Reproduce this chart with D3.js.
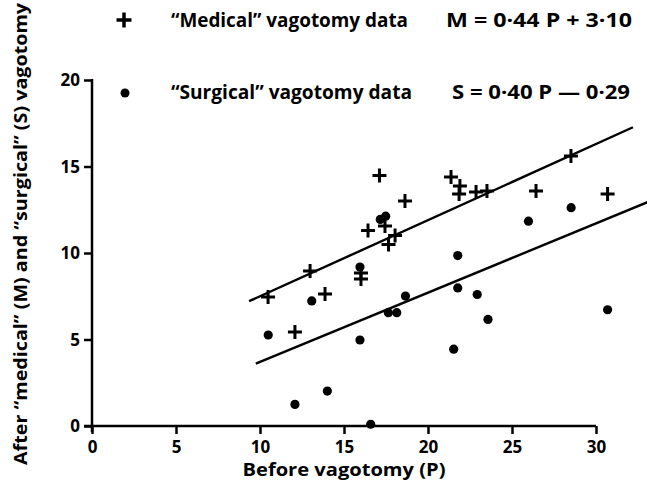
<!DOCTYPE html>
<html>
<head>
<meta charset="utf-8">
<script src="https://cdn.jsdelivr.net/npm/d3@7"></script>
<style>
  html, body { margin: 0; padding: 0; background: #fff; }
  svg { display: block; }
  text { font-family: "Open Sans", "DejaVu Sans", sans-serif; font-weight: 700; fill: #000; }
</style>
</head>
<body>
<svg id="chart" width="647" height="487"></svg>
<script>
// ---- data ----
const xTicks = [0, 5, 10, 15, 20, 25, 30];
const yTicks = [0, 5, 10, 15, 20];

const medicalP = [10.48, 12.08, 12.98, 13.87, 16.01, 16.01, 16.43, 17.11, 17.44, 18.04,
                  17.65, 18.63, 21.37, 21.90, 21.85, 22.86, 23.51, 26.43, 28.51, 30.69];
const medicalM = [7.46, 5.43, 8.96, 7.63, 8.84, 8.50, 11.30, 14.48, 11.56, 11.01,
                  10.49, 13.01, 14.39, 13.87, 13.41, 13.53, 13.58, 13.58, 15.61, 13.41];

const surgicalP = [10.49, 13.08, 12.08, 14.01, 15.95, 17.64, 18.14, 16.59, 15.95, 17.16,
                   17.48, 18.66, 21.77, 21.77, 22.93, 23.57, 21.53, 25.98, 28.52, 30.69];
const surgicalS = [5.26, 7.23, 1.25, 2.02, 4.97, 6.55, 6.55, 0.10, 9.19, 11.94,
                   12.13, 7.51, 9.85, 7.98, 7.60, 6.16, 4.44, 11.84, 12.62, 6.72];

// regression lines: slope, intercept, P range drawn
const medicalFit = { slope: 0.44, intercept: 3.10, from: 9.35, to: 32.2 };
const surgicalFit = { slope: 0.40, intercept: -0.29, from: 9.75, to: 33.5 };

const legendLabels = ["\u201CMedical\u201D vagotomy data", "\u201CSurgical\u201D vagotomy data"];
const legendEquations = ["M = 0\u00B744 P + 3\u00B710", "S = 0\u00B740 P \u2014 0\u00B729"];
const xTitle = "Before vagotomy (P)";
const yTitle = "After \u201Cmedical\u201D (M) and \u201Csurgical\u201D (S) vagotomy";

// ---- layout ----
const svg = d3.select("#chart");
const x = d3.scaleLinear().domain([0, 30]).range([92, 596]);
const y = d3.scaleLinear().domain([0, 20]).range([426, 80]);

// axes
const xAxis = d3.axisBottom(x).tickValues(xTicks).tickSize(8).tickSizeOuter(0).tickPadding(4);
const yAxis = d3.axisLeft(y).tickValues(yTicks).tickSize(8).tickSizeOuter(0).tickPadding(4);

const gx = svg.append("g").attr("transform", `translate(0,${y(0)})`).call(xAxis);
const gy = svg.append("g").attr("transform", `translate(${x(0)},0)`).call(yAxis);

[gx, gy].forEach(g => {
  g.select(".domain").remove();
  g.selectAll(".tick line").attr("stroke", "#000").attr("stroke-width", 2.5);
  g.selectAll(".tick text").style("font-size", "17px").style("font-family", "'Open Sans', sans-serif")
    .style("font-weight", "700");
});
gx.selectAll(".tick text").attr("dy", "0.9em");
gy.selectAll(".tick text").attr("dy", "0.35em");

// axis lines
svg.append("line").attr("x1", x(0) - 8).attr("x2", x(30)).attr("y1", y(0)).attr("y2", y(0))
  .attr("stroke", "#000").attr("stroke-width", 2.5);
svg.append("line").attr("x1", x(0)).attr("x2", x(0)).attr("y1", y(20) - 1).attr("y2", y(0) + 6)
  .attr("stroke", "#000").attr("stroke-width", 2.5);

// regression lines
[medicalFit, surgicalFit].forEach(f => {
  svg.append("line")
    .attr("x1", x(f.from)).attr("y1", y(f.slope * f.from + f.intercept))
    .attr("x2", x(f.to)).attr("y2", y(f.slope * f.to + f.intercept))
    .attr("stroke", "#000").attr("stroke-width", 2.4);
});

// points
const plusPath = (cx, cy, s) => `M${cx - s},${cy}H${cx + s}M${cx},${cy - s}V${cy + s}`;

svg.append("g").selectAll("path")
  .data(d3.range(medicalP.length))
  .join("path")
  .attr("d", i => plusPath(x(medicalP[i]), y(medicalM[i]), 7))
  .attr("stroke", "#000").attr("stroke-width", 3).attr("fill", "none");

svg.append("g").selectAll("circle")
  .data(d3.range(surgicalP.length))
  .join("circle")
  .attr("cx", i => x(surgicalP[i]))
  .attr("cy", i => y(surgicalS[i]))
  .attr("r", 4.6)
  .attr("fill", "#000");

// legend
svg.append("path").attr("d", plusPath(124, 20, 7.5)).attr("stroke", "#000").attr("stroke-width", 3.5);
svg.append("circle").attr("cx", 125).attr("cy", 93).attr("r", 4.5).attr("fill", "#000");

const legY = [27, 99];
const legLen = [237, 241];
legendLabels.forEach((t, i) => {
  svg.append("text").attr("x", 171).attr("y", legY[i]).style("font-size", "19px")
    .attr("textLength", legLen[i]).attr("lengthAdjust", "spacingAndGlyphs").text(t);
});
const eqX = [446, 452];
const eqLen = [186, 178];
legendEquations.forEach((t, i) => {
  svg.append("text").attr("x", eqX[i]).attr("y", legY[i]).style("font-size", "19px")
    .attr("textLength", eqLen[i]).attr("lengthAdjust", "spacingAndGlyphs").text(t);
});

// axis titles
svg.append("text").attr("x", 344).attr("y", 476).attr("text-anchor", "middle")
  .style("font-size", "18px").attr("textLength", 203).attr("lengthAdjust", "spacingAndGlyphs").text(xTitle);
svg.append("text").attr("transform", "translate(27,234) rotate(-90)").attr("text-anchor", "middle")
  .style("font-size", "18px").attr("textLength", 462).attr("lengthAdjust", "spacingAndGlyphs").text(yTitle);
</script>
</body>
</html>
